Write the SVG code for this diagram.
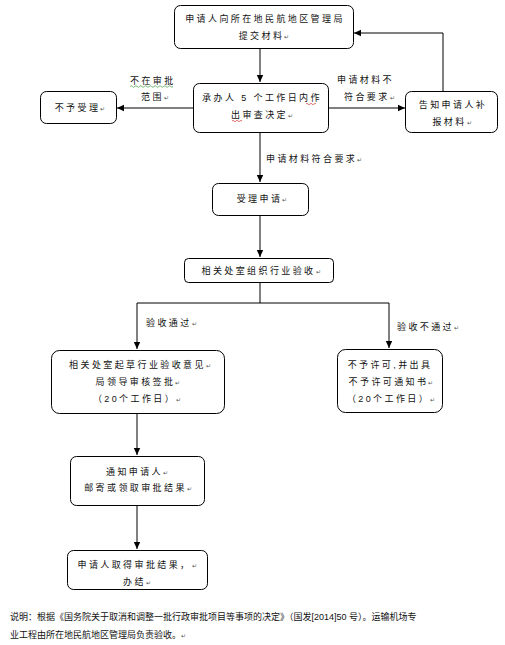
<svg xmlns="http://www.w3.org/2000/svg" width="505" height="645" viewBox="0 0 505 645">
<defs>
<marker id="arr" markerUnits="userSpaceOnUse" markerWidth="8" markerHeight="8" refX="7" refY="4" orient="auto">
<path d="M0,0.8 L7,4 L0,7.2 Z" fill="#000"/>
</marker>
<style>
.box{fill:#fff;stroke:#000;stroke-width:1}
.t{font-family:"Liberation Sans","Noto Sans CJK SC",sans-serif;font-size:9px;letter-spacing:2.4px;fill:#111;text-anchor:middle}
.lb{font-family:"Liberation Sans","Noto Sans CJK SC",sans-serif;font-size:9px;letter-spacing:2.4px;fill:#111}
.m{font-size:6px;fill:#555;letter-spacing:0}
.c{fill:none;stroke:#000;stroke-width:1}
.note{font-family:"Liberation Sans","Noto Sans CJK SC",sans-serif;font-size:9px;fill:#111}
</style>
</defs>
<rect width="505" height="645" fill="#fff"/>
<g id="connectors">
<path class="c" d="M260,48 V82" marker-end="url(#arr)"/>
<path class="c" d="M193,108 H117" marker-end="url(#arr)"/>
<path class="c" d="M328,108 H405" marker-end="url(#arr)"/>
<path class="c" d="M443,91 V33 H354" marker-end="url(#arr)"/>
<path class="c" d="M260,132 V182" marker-end="url(#arr)"/>
<path class="c" d="M260,215 V257" marker-end="url(#arr)"/>
<path class="c" d="M260,282 V303"/>
<path class="c" d="M137,303 H389"/>
<path class="c" d="M137,303 V349" marker-end="url(#arr)"/>
<path class="c" d="M389,303 V348" marker-end="url(#arr)"/>
<path class="c" d="M137,413 V455" marker-end="url(#arr)"/>
<path class="c" d="M137,505 V549" marker-end="url(#arr)"/>
<text class="lb" x="130" y="84">不在审批</text>
<text class="lb" x="141" y="100">范围<tspan class="m">↵</tspan></text>
<path d="M130,86.5 q1.2,-1.5 2.4,0 t2.4,0 t2.4,0 t2.4,0 t2.4,0 t2.4,0 t2.4,0 t2.4,0 t2.4,0 t2.4,0 t2.4,0 t2.4,0 t2.4,0 t2.4,0 t2.4,0 t2.4,0 t2.4,0 t2.4,0" fill="none" stroke="#3a9a3a" stroke-width="0.7"/>
<text class="lb" x="337" y="83">申请材料不</text>
<text class="lb" x="344" y="100">符合要求<tspan class="m">↵</tspan></text>
<text class="lb" x="266" y="162">申请材料符合要求<tspan class="m">↵</tspan></text>
<text class="lb" x="146" y="326">验收通过<tspan class="m">↵</tspan></text>
<text class="lb" x="397" y="330">验收不通过<tspan class="m">↵</tspan></text>
</g>
<g id="n1">
<rect class="box" x="174.5" y="5.5" width="179" height="43" rx="6"/>
<text class="t" x="265" y="22">申请人向所在地民航地区管理局</text>
<text class="t" x="264" y="39">提交材料<tspan class="m">↵</tspan></text>
</g>
<g id="n2">
<rect class="box" x="193.5" y="83.5" width="135" height="49" rx="6"/>
<text class="t" x="262" y="101">承办人 5 个工作日内作</text>
<text class="t" x="262" y="118">出审查决定<tspan class="m">↵</tspan></text>
<path d="M306,104 q1,-1.3 2,0 t2,0 t2,0 t2,0 t2,0" fill="none" stroke="#d03030" stroke-width="0.7"/>
<path d="M232,121 q1,-1.3 2,0 t2,0 t2,0 t2,0 t2,0" fill="none" stroke="#d03030" stroke-width="0.7"/>
</g>
<g id="n3">
<rect class="box" x="40.5" y="91.5" width="76" height="32" rx="6"/>
<text class="t" x="80" y="111">不予受理<tspan class="m">↵</tspan></text>
</g>
<g id="n4">
<rect class="box" x="405.5" y="91.5" width="92" height="41" rx="6"/>
<text class="t" x="453" y="108">告知申请人补</text>
<text class="t" x="452" y="125">报材料<tspan class="m">↵</tspan></text>
</g>
<g id="n5">
<rect class="box" x="212.5" y="183.5" width="96" height="32" rx="6"/>
<text class="t" x="262" y="202">受理申请<tspan class="m">↵</tspan></text>
</g>
<g id="n6">
<rect class="box" x="184.5" y="258.5" width="149" height="24" rx="4"/>
<text class="t" x="261" y="274">相关处室组织行业验收<tspan class="m">↵</tspan></text>
</g>
<g id="n7">
<rect class="box" x="51.5" y="350.5" width="173" height="63" rx="8"/>
<text class="t" x="140" y="368">相关处室起草行业验收意见<tspan class="m">↵</tspan></text>
<text class="t" x="138" y="385">局领导审核签批<tspan class="m">↵</tspan></text>
<text class="t" x="137" y="402">（20个工作日）<tspan class="m">↵</tspan></text>
</g>
<g id="n8">
<rect class="box" x="337.5" y="349.5" width="105" height="63" rx="8"/>
<text class="t" x="390" y="368">不予许可,并出具</text>
<text class="t" x="391" y="385">不予许可通知书<tspan class="m">↵</tspan></text>
<text class="t" x="391" y="402">（20个工作日）<tspan class="m">↵</tspan></text>
</g>
<g id="n9">
<rect class="box" x="70.5" y="456.5" width="134" height="49" rx="6"/>
<text class="t" x="137" y="475">通知申请人<tspan class="m">↵</tspan></text>
<text class="t" x="138" y="491">邮寄或领取审批结果<tspan class="m">↵</tspan></text>
</g>
<g id="n10">
<rect class="box" x="67.5" y="550.5" width="140" height="39" rx="6"/>
<text class="t" x="137" y="568">申请人取得审批结果，<tspan class="m">↵</tspan></text>
<text class="t" x="137" y="585">办结<tspan class="m">↵</tspan></text>
</g>
<g id="note">
<text class="note" x="10" y="620">说明：根据《国务院关于取消和调整一批行政审批项目等事项的决定》（国发[2014]50  号）。运输机场专</text>
<text class="note" x="10" y="638">业工程由所在地民航地区管理局负责验收。<tspan class="m">↵</tspan></text>
</g>
</svg>
